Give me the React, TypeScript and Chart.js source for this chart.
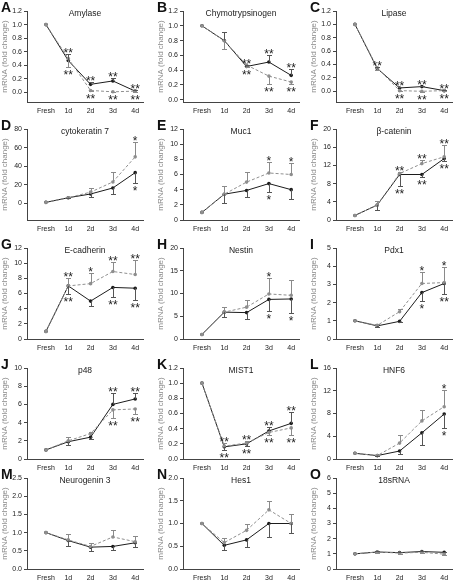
import React, { useEffect, useRef } from 'react';
import { Chart, registerables } from 'chart.js';
Chart.register(...registerables);

const FONT = "'Liberation Sans', Arial, sans-serif";
Chart.defaults.font.family = FONT;

const categories = ['Fresh', '1d', '2d', '3d', '4d'];

// A Amylase
const amyTicks = [0, 0.2, 0.4, 0.6, 0.8, 1.0, 1.2];
const amySolid = [1.0, 0.47, 0.12, 0.17, 0.02];
const amySolidErr = [0, 0.1, 0.03, 0.05, 0.01];
const amyDashed = [1.0, 0.5, 0.03, 0.01, 0.02];
const amyDashedErr = [0, -0.12, -0.01, -0.01, -0.01];
const amySigUp = ['', '**', '**', '**', '**'];
const amySigDown = ['', '**', '**', '**', '**'];

// B Chymotrypsinogen
const chyTicks = [0, 0.2, 0.4, 0.6, 0.8, 1.0, 1.2];
const chySolid = [1.0, 0.8, 0.45, 0.51, 0.33];
const chySolidErr = [0, 0.11, 0.02, 0.1, 0.08];
const chyDashed = [1.0, 0.8, 0.47, 0.32, 0.24];
const chyDashedErr = [0, -0.11, -0.03, -0.1, -0.03];
const chySigUp = ['', '', '**', '**', '**'];
const chySigDown = ['', '', '**', '**', '**'];

// C Lipase
const lipTicks = [0, 0.2, 0.4, 0.6, 0.8, 1.0, 1.2];
const lipSolid = [1.0, 0.34, 0.05, 0.07, 0.01];
const lipSolidErr = [0, 0.03, 0.01, 0.01, 0.005];
const lipDashed = [1.0, 0.35, 0.01, 0.0, 0.01];
const lipDashedErr = [0, -0.03, -0.005, -0.005, -0.005];
const lipSigUp = ['', '**', '**', '**', '**'];
const lipSigDown = ['', '', '**', '**', '**'];

// D cytokeratin 7
const ck7Ticks = [0, 20, 40, 60, 80];
const ck7Solid = [1, 6, 10, 16.5, 33];
const ck7SolidErr = [0, -0.5, -3.5, -7, -11];
const ck7Dashed = [1, 6, 12, 23, 50];
const ck7DashedErr = [0, 0.5, 4, 11, 16];
const ck7SigUp = ['', '', '', '', '*'];
const ck7SigDown = ['', '', '', '', '*'];

// E Muc1
const mucTicks = [0, 2, 4, 6, 8, 10, 12];
const mucSolid = [1, 3.4, 3.9, 4.8, 4.0];
const mucSolidErr = [0, -1.1, -0.9, -1.1, -1.2];
const mucDashed = [1, 3.4, 5.0, 6.2, 6.0];
const mucDashedErr = [0, 1.1, 1.3, 1.5, 1.5];
const mucSigUp = ['', '', '', '*', '*'];
const mucSigDown = ['', '', '', '*', ''];

// F beta-catenin
const bcaTicks = [0, 4, 8, 12, 16, 20];
const bcaSolid = [1, 3.3, 10, 10, 13.5];
const bcaSolidErr = [0, -1.1, -2.5, -0.5, -0.5];
const bcaDashed = [1, 3.3, 10.2, 12.4, 13.9];
const bcaDashedErr = [0, 0.9, 0.3, 0.8, 2.6];
const bcaSigUp = ['', '', '**', '**', '**'];
const bcaSigDown = ['', '', '**', '**', '**'];

// G E-cadherin
const ecaTicks = [0, 2, 4, 6, 8, 10, 12];
const ecaSolid = [1, 7.0, 5.0, 6.8, 6.7];
const ecaSolidErr = [0, -1.1, -0.7, -1.3, -1.5];
const ecaDashed = [1, 7.0, 7.3, 8.9, 8.5];
const ecaDashedErr = [0, 1.1, 1.4, 1.3, 1.9];
const ecaSigUp = ['', '**', '*', '**', '**'];
const ecaSigDown = ['', '**', '', '**', '**'];

// H Nestin
const nesTicks = [0, 5, 10, 15, 20];
const nesSolid = [1, 5.9, 5.8, 8.7, 8.8];
const nesSolidErr = [0, -1.1, -1.3, -2.6, -3.1];
const nesDashed = [1, 5.9, 7.0, 9.9, 9.6];
const nesDashedErr = [0, 1.1, 1.5, 3.4, 3.4];
const nesSigUp = ['', '', '', '*', ''];
const nesSigDown = ['', '', '', '*', '*'];

// I Pdx1
const pdxTicks = [0, 1, 2, 3, 4, 5];
const pdxSolid = [1, 0.72, 0.97, 2.55, 3.05];
const pdxSolidErr = [0, -0.07, -0.05, -0.45, -0.55];
const pdxDashed = [1, 0.75, 1.5, 3.05, 3.1];
const pdxDashedErr = [0, 0.1, 0.15, 0.65, 0.85];
const pdxSigUp = ['', '', '', '*', '*'];
const pdxSigDown = ['', '', '', '*', '**'];

// J p48
const p48Ticks = [0, 2, 4, 6, 8, 10];
const p48Solid = [1, 1.9, 2.4, 6.0, 6.6];
const p48SolidErr = [0, -0.4, -0.15, 1.3, 0.7];
const p48Dashed = [1, 2.0, 2.8, 5.4, 5.5];
const p48DashedErr = [0, 0.4, 0.2, -0.9, -0.6];
const p48SigUp = ['', '', '', '**', '**'];
const p48SigDown = ['', '', '', '**', '**'];

// K MIST1
const misTicks = [0, 0.2, 0.4, 0.6, 0.8, 1.0, 1.2];
const misSolid = [1.0, 0.16, 0.2, 0.37, 0.47];
const misSolidErr = [0, -0.04, -0.03, 0.05, 0.15];
const misDashed = [1.0, 0.17, 0.21, 0.35, 0.41];
const misDashedErr = [0, 0.04, 0.03, -0.03, -0.1];
const misSigUp = ['', '**', '**', '**', '**'];
const misSigDown = ['', '**', '**', '**', '**'];

// L HNF6
const hnfTicks = [0, 2, 4, 6, 8, 10, 12, 14, 16];
const hnfSolid = [1, 0.6, 1.4, 4.6, 7.9];
const hnfSolidErr = [0, -0.1, -0.6, -2.1, -2.4];
const hnfDashed = [1, 0.6, 2.8, 6.7, 9.2];
const hnfDashedErr = [0, 0.1, 1.4, 1.9, 3.0];
const hnfSigUp = ['', '', '', '', '*'];
const hnfSigDown = ['', '', '', '', '*'];

// M Neurogenin 3
const ngnTicks = [0, 0.5, 1.0, 1.5, 2.0, 2.5];
const ngnSolid = [1.0, 0.78, 0.6, 0.62, 0.72];
const ngnSolidErr = [0, -0.15, -0.1, -0.1, -0.12];
const ngnDashed = [1.0, 0.8, 0.62, 0.88, 0.75];
const ngnDashedErr = [0, 0.15, 0.1, 0.2, 0.15];
const ngnSigUp = ['', '', '', '', ''];
const ngnSigDown = ['', '', '', '', ''];

// N Hes1
const hesTicks = [0, 0.5, 1.0, 1.5, 2.0];
const hesSolid = [1.0, 0.52, 0.64, 1.0, 1.0];
const hesSolidErr = [0, -0.1, -0.15, -0.3, -0.2];
const hesDashed = [1.0, 0.58, 0.85, 1.3, 1.0];
const hesDashedErr = [0, 0.1, 0.15, 0.2, 0.2];
const hesSigUp = ['', '', '', '', ''];
const hesSigDown = ['', '', '', '', ''];

// O 18sRNA
const rnaTicks = [0, 1, 2, 3, 4, 5, 6];
const rnaSolid = [1.0, 1.12, 1.08, 1.15, 1.1];
const rnaSolidErr = [0, 0.05, 0.05, 0.05, 0.05];
const rnaDashed = [1.0, 1.12, 1.05, 1.1, 0.98];
const rnaDashedErr = [0, -0.05, -0.05, -0.05, -0.05];
const rnaSigUp = ['', '', '', '', ''];
const rnaSigDown = ['', '', '', '', ''];

type PanelDef = {
  letter: string; title: string; ticks: number[]; dec: number; floor: number;
  solid: number[]; solidErr: number[]; dashed: number[]; dashedErr: number[];
  sigUp: string[]; sigDown: string[]; col: number; row: number;
};

const panels: PanelDef[] = [
  { letter: 'A', title: 'Amylase', ticks: amyTicks, dec: 1, floor: -0.14, solid: amySolid, solidErr: amySolidErr, dashed: amyDashed, dashedErr: amyDashedErr, sigUp: amySigUp, sigDown: amySigDown, col: 0, row: 0 },
  { letter: 'B', title: 'Chymotrypsinogen', ticks: chyTicks, dec: 1, floor: -0.03, solid: chySolid, solidErr: chySolidErr, dashed: chyDashed, dashedErr: chyDashedErr, sigUp: chySigUp, sigDown: chySigDown, col: 1, row: 0 },
  { letter: 'C', title: 'Lipase', ticks: lipTicks, dec: 1, floor: -0.16, solid: lipSolid, solidErr: lipSolidErr, dashed: lipDashed, dashedErr: lipDashedErr, sigUp: lipSigUp, sigDown: lipSigDown, col: 2, row: 0 },
  { letter: 'D', title: 'cytokeratin 7', ticks: ck7Ticks, dec: 0, floor: -18, solid: ck7Solid, solidErr: ck7SolidErr, dashed: ck7Dashed, dashedErr: ck7DashedErr, sigUp: ck7SigUp, sigDown: ck7SigDown, col: 0, row: 1 },
  { letter: 'E', title: 'Muc1', ticks: mucTicks, dec: 0, floor: 0, solid: mucSolid, solidErr: mucSolidErr, dashed: mucDashed, dashedErr: mucDashedErr, sigUp: mucSigUp, sigDown: mucSigDown, col: 1, row: 1 },
  { letter: 'F', title: 'β-catenin', ticks: bcaTicks, dec: 0, floor: 0, solid: bcaSolid, solidErr: bcaSolidErr, dashed: bcaDashed, dashedErr: bcaDashedErr, sigUp: bcaSigUp, sigDown: bcaSigDown, col: 2, row: 1 },
  { letter: 'G', title: 'E-cadherin', ticks: ecaTicks, dec: 0, floor: 0, solid: ecaSolid, solidErr: ecaSolidErr, dashed: ecaDashed, dashedErr: ecaDashedErr, sigUp: ecaSigUp, sigDown: ecaSigDown, col: 0, row: 2 },
  { letter: 'H', title: 'Nestin', ticks: nesTicks, dec: 0, floor: 0, solid: nesSolid, solidErr: nesSolidErr, dashed: nesDashed, dashedErr: nesDashedErr, sigUp: nesSigUp, sigDown: nesSigDown, col: 1, row: 2 },
  { letter: 'I', title: 'Pdx1', ticks: pdxTicks, dec: 0, floor: 0, solid: pdxSolid, solidErr: pdxSolidErr, dashed: pdxDashed, dashedErr: pdxDashedErr, sigUp: pdxSigUp, sigDown: pdxSigDown, col: 2, row: 2 },
  { letter: 'J', title: 'p48', ticks: p48Ticks, dec: 0, floor: 0, solid: p48Solid, solidErr: p48SolidErr, dashed: p48Dashed, dashedErr: p48DashedErr, sigUp: p48SigUp, sigDown: p48SigDown, col: 0, row: 3 },
  { letter: 'K', title: 'MIST1', ticks: misTicks, dec: 1, floor: 0, solid: misSolid, solidErr: misSolidErr, dashed: misDashed, dashedErr: misDashedErr, sigUp: misSigUp, sigDown: misSigDown, col: 1, row: 3 },
  { letter: 'L', title: 'HNF6', ticks: hnfTicks, dec: 0, floor: 0, solid: hnfSolid, solidErr: hnfSolidErr, dashed: hnfDashed, dashedErr: hnfDashedErr, sigUp: hnfSigUp, sigDown: hnfSigDown, col: 2, row: 3 },
  { letter: 'M', title: 'Neurogenin 3', ticks: ngnTicks, dec: 1, floor: 0, solid: ngnSolid, solidErr: ngnSolidErr, dashed: ngnDashed, dashedErr: ngnDashedErr, sigUp: ngnSigUp, sigDown: ngnSigDown, col: 0, row: 4 },
  { letter: 'N', title: 'Hes1', ticks: hesTicks, dec: 1, floor: 0, solid: hesSolid, solidErr: hesSolidErr, dashed: hesDashed, dashedErr: hesDashedErr, sigUp: hesSigUp, sigDown: hesSigDown, col: 1, row: 4 },
  { letter: 'O', title: '18sRNA', ticks: rnaTicks, dec: 0, floor: 0, solid: rnaSolid, solidErr: rnaSolidErr, dashed: rnaDashed, dashedErr: rnaDashedErr, sigUp: rnaSigUp, sigDown: rnaSigDown, col: 2, row: 4 },
];

const COLS = [0, 156, 309];
const ROWS = [0, 118, 237, 357, 467];
const W = 154;
const H = 118;

const SOLID = '#1c1c1c';
const DASHED = '#8f8f8f';

const decorPlugin = {
  id: 'decor',
  afterDraw(chart: any) {
    const p: PanelDef = chart.options.plugins.decor.panel;
    const { ctx, chartArea } = chart;
    ctx.save();
    ctx.fillStyle = '#111';
    ctx.font = `bold 14px ${FONT}`;
    ctx.textAlign = 'left';
    ctx.textBaseline = 'top';
    ctx.fillText(p.letter, 1, 1);
    ctx.font = `8.5px ${FONT}`;
    ctx.fillStyle = '#222';
    ctx.textAlign = 'center';
    ctx.textBaseline = 'middle';
    ctx.fillText(p.title, (chartArea.left + chartArea.right) / 2, chartArea.top + 3);
    ctx.restore();
  },
};

const errPlugin = {
  id: 'errbars',
  afterDatasetsDraw(chart: any) {
    const { ctx } = chart;
    const ys = chart.scales.y;
    ctx.save();
    chart.data.datasets.forEach((ds: any, i: number) => {
      const meta = chart.getDatasetMeta(i);
      meta.data.forEach((pt: any, j: number) => {
        const e = ds.errors[j];
        if (!e) return;
        const v = ds.data[j].y;
        const yEnd = Math.round(ys.getPixelForValue(v + e)) + 0.5;
        const x = Math.round(pt.x) + 0.5;
        ctx.strokeStyle = ds.errColor;
        ctx.lineWidth = 1;
        ctx.setLineDash([]);
        ctx.beginPath();
        ctx.moveTo(x, pt.y);
        ctx.lineTo(x, yEnd);
        ctx.moveTo(x - 2.5, yEnd);
        ctx.lineTo(x + 2.5, yEnd);
        ctx.stroke();
      });
    });
    ctx.restore();
  },
};

const sigPlugin = {
  id: 'sig',
  afterDatasetsDraw(chart: any) {
    const p: PanelDef = chart.options.plugins.sig.panel;
    const { ctx } = chart;
    const ys = chart.scales.y;
    const xs = chart.scales.x;
    ctx.save();
    ctx.font = `12px ${FONT}`;
    ctx.fillStyle = '#222';
    ctx.textAlign = 'center';
    ctx.textBaseline = 'alphabetic';
    categories.forEach((_, j) => {
      const vals: number[] = [];
      chart.data.datasets.forEach((ds: any) => {
        const v = ds.data[j].y;
        vals.push(v, v + (ds.errors[j] || 0));
      });
      const top = ys.getPixelForValue(Math.max(...vals));
      const bot = ys.getPixelForValue(Math.min(...vals));
      const x = xs.getPixelForValue(j);
      if (p.sigUp[j]) ctx.fillText(p.sigUp[j], x, top + 3);
      if (p.sigDown[j]) ctx.fillText(p.sigDown[j], x, bot + 12);
    });
    ctx.restore();
  },
};

function buildConfig(p: PanelDef): any {
  const toPts = (arr: number[]) => arr.map((v, i) => ({ x: i, y: v }));
  const ymax = p.ticks[p.ticks.length - 1];
  return {
    type: 'line',
    data: {
      datasets: [
        {
          data: toPts(p.dashed), errors: p.dashedErr, errColor: '#8a8a8a',
          borderColor: DASHED, borderWidth: 1, borderDash: [3, 2],
          pointRadius: 1.8, pointBackgroundColor: DASHED, pointBorderWidth: 0,
          fill: false, tension: 0,
        },
        {
          data: toPts(p.solid), errors: p.solidErr, errColor: '#555',
          borderColor: SOLID, borderWidth: 1,
          pointRadius: 1.8, pointBackgroundColor: SOLID, pointBorderWidth: 0,
          fill: false, tension: 0,
        },
      ],
    },
    options: {
      animation: false,
      responsive: false,
      devicePixelRatio: 1,
      layout: { padding: { top: 11, right: 11, left: 0, bottom: 0 } },
      plugins: {
        legend: { display: false },
        tooltip: { enabled: false },
        decor: { panel: p },
        sig: { panel: p },
      },
      scales: {
        x: {
          type: 'linear',
          min: -0.85,
          max: 4.35,
          afterBuildTicks: (s: any) => { s.ticks = categories.map((_, i) => ({ value: i })); },
          afterFit: (s: any) => { s.height = 16; },
          ticks: {
            autoSkip: false, maxRotation: 0, padding: 5,
            font: { size: 7, family: FONT }, color: '#222',
            callback: (v: any) => categories[v as number] ?? '',
          },
          grid: { display: true, drawOnChartArea: false, drawTicks: false, color: '#444' },
          border: { display: true, color: '#444', width: 1 },
        },
        y: {
          type: 'linear',
          min: p.floor,
          max: ymax,
          afterBuildTicks: (s: any) => { s.ticks = p.ticks.map((v) => ({ value: v })); },
          afterFit: (s: any) => { s.width = 27; },
          ticks: {
            padding: 2, font: { size: 7, family: FONT }, color: '#222',
            callback: (v: any) => Number(v).toFixed(p.dec),
          },
          grid: { display: true, drawOnChartArea: false, tickLength: 3, color: '#444' },
          border: { display: true, color: '#444', width: 1 },
          title: {
            display: true, text: 'mRNA (fold change)', color: '#8a8a8a',
            font: { size: 8, family: FONT }, padding: { top: 0, bottom: 0 },
          },
        },
      },
    },
    plugins: [errPlugin, sigPlugin, decorPlugin],
  };
}

function Panel({ p }: { p: PanelDef }) {
  const ref = useRef<HTMLCanvasElement>(null);
  useEffect(() => {
    if (!ref.current) return;
    const chart = new Chart(ref.current, buildConfig(p));
    return () => chart.destroy();
  }, [p]);
  return (
    <canvas
      ref={ref}
      width={W}
      height={H}
      style={{ position: 'absolute', left: COLS[p.col], top: ROWS[p.row], width: W, height: H }}
    />
  );
}

export default function App() {
  useEffect(() => {
    document.body.style.margin = '0';
  }, []);
  return (
    <div style={{ position: 'relative', width: 463, height: 587, overflow: 'hidden', background: '#fff' }}>
      {panels.map((p) => (
        <Panel key={p.letter} p={p} />
      ))}
    </div>
  );
}
